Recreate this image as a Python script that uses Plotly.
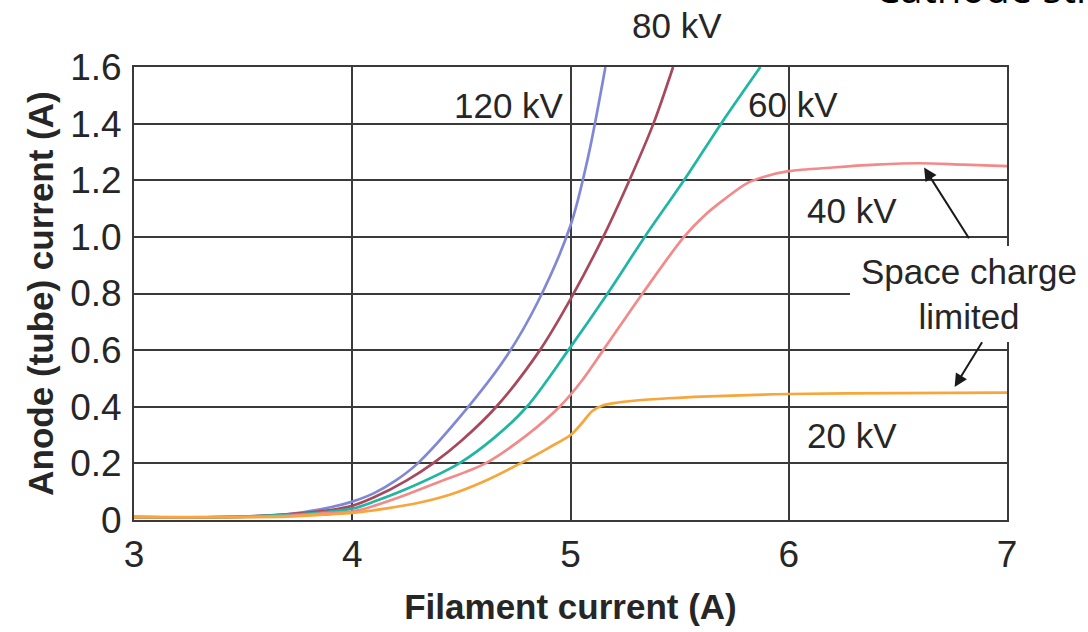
import plotly.graph_objects as go

# ---- data ----
x_120kv = [3.0, 3.4, 3.7, 3.9, 4.0, 4.1, 4.2, 4.3, 4.5, 4.7, 4.85, 5.0, 5.08, 5.16]
y_120kv = [0.01, 0.01, 0.02, 0.045, 0.065, 0.095, 0.14, 0.2, 0.37, 0.57, 0.77, 1.04, 1.28, 1.6]

x_80kv = [3.0, 3.4, 3.7, 3.9, 4.0, 4.1, 4.25, 4.37, 4.5, 4.66, 4.86, 5.0, 5.15, 5.27, 5.38, 5.47]
y_80kv = [0.01, 0.01, 0.02, 0.035, 0.05, 0.08, 0.14, 0.2, 0.28, 0.4, 0.6, 0.78, 1.0, 1.2, 1.4, 1.6]

x_60kv = [3.0, 3.4, 3.7, 3.9, 4.0, 4.1, 4.25, 4.49, 4.65, 4.8, 4.99, 5.17, 5.34, 5.52, 5.69, 5.87]
y_60kv = [0.01, 0.01, 0.018, 0.03, 0.04, 0.065, 0.11, 0.2, 0.29, 0.4, 0.6, 0.8, 1.0, 1.2, 1.4, 1.6]

x_40kv = [3.0, 3.4, 3.7, 3.9, 4.0, 4.1, 4.25, 4.4, 4.61, 4.8, 4.95, 5.05, 5.15, 5.33, 5.52, 5.62, 5.7, 5.81, 5.9, 6.0, 6.2, 6.4, 6.6, 6.8, 7.0]
y_40kv = [0.01, 0.01, 0.015, 0.025, 0.03, 0.05, 0.09, 0.135, 0.2, 0.3, 0.4, 0.49, 0.6, 0.8, 1.0, 1.08, 1.13, 1.19, 1.215, 1.232, 1.245, 1.255, 1.26, 1.255, 1.25]

x_20kv = [3.0, 3.4, 3.7, 3.9, 4.0, 4.15, 4.3, 4.45, 4.6, 4.77, 4.9, 5.0, 5.05, 5.1, 5.15, 5.2, 5.3, 5.45, 5.6, 6.0, 6.5, 7.0]
y_20kv = [0.01, 0.01, 0.012, 0.02, 0.025, 0.04, 0.06, 0.09, 0.135, 0.2, 0.255, 0.3, 0.34, 0.385, 0.405, 0.413, 0.422, 0.43, 0.436, 0.445, 0.448, 0.45]

series_names = ["120 kV", "80 kV", "60 kV", "40 kV", "20 kV"]
series_colors = ["#8088d6", "#a8485c", "#1fb7a3", "#f38a8a", "#f6a63a"]

y_tick_vals = [0, 0.2, 0.4, 0.6, 0.8, 1.0, 1.2, 1.4, 1.6]
y_tick_text = ["0", "0.2", "0.4", "0.6", "0.8", "1.0", "1.2", "1.4", "1.6"]
x_tick_vals = [3, 4, 5, 6, 7]
x_tick_text = ["3", "4", "5", "6", "7"]

xs = [x_120kv, x_80kv, x_60kv, x_40kv, x_20kv]
ys = [y_120kv, y_80kv, y_60kv, y_40kv, y_20kv]

fig = go.Figure()
for name, color, xv, yv in zip(series_names, series_colors, xs, ys):
    fig.add_trace(go.Scatter(x=xv, y=yv, mode="lines", name=name,
                             line=dict(color=color, width=2.7, shape="spline", smoothing=0.9),
                             cliponaxis=False, showlegend=False))

grid_col = "#3a3a3a"
txt_col = "#262626"
lab_font = dict(family="Liberation Sans, Arial, sans-serif", size=35, color=txt_col)
tick_font = dict(family="Liberation Sans, Arial, sans-serif", size=37, color=txt_col)
title_font = dict(family="Liberation Sans, Arial, sans-serif", size=35, color=txt_col)

fig.update_layout(
    width=1088, height=632,
    margin=dict(l=134, r=81, t=67, b=105),
    paper_bgcolor="white", plot_bgcolor="white",
    xaxis=dict(range=[3, 7], tickvals=x_tick_vals, ticktext=x_tick_text,
               showgrid=True, gridcolor=grid_col, gridwidth=2,
               showline=True, linecolor=grid_col, linewidth=2, mirror=True,
               zeroline=False, ticks="outside", ticklen=1, tickcolor="rgba(0,0,0,0)",
               tickfont=tick_font,
               title=dict(text="<b>Filament current (A)</b>", standoff=20, font=title_font)),
    yaxis=dict(range=[0, 1.6], tickvals=y_tick_vals, ticktext=y_tick_text,
               showgrid=True, gridcolor=grid_col, gridwidth=2,
               showline=True, linecolor=grid_col, linewidth=2, mirror=True,
               zeroline=False, ticks="outside", ticklen=3, tickcolor="rgba(0,0,0,0)",
               tickfont=tick_font,
               title=dict(text="<b>Anode (tube) current (A)</b>", standoff=6, font=title_font)),
)

# curve labels (80 kV sits above the plot area, so it is placed in paper units vertically)
labels = [("80 kV", 5.49, 1.091, "paper"), ("120 kV", 4.72, 1.464, "y"), ("60 kV", 6.02, 1.468, "y"),
          ("40 kV", 6.29, 1.093, "y"), ("20 kV", 6.29, 0.298, "y")]
for t, lx, ly, yr in labels:
    fig.add_annotation(x=lx, y=ly, xref="x", yref=yr, text=t, showarrow=False,
                       xanchor="center", yanchor="middle", font=lab_font)

# space charge limited label (white box hides the grid behind it)
fig.add_annotation(x=0.956, y=0.5, xref="paper", yref="paper",
                   text="Space charge<br>limited", showarrow=False,
                   xanchor="center", yanchor="middle", align="center",
                   width=234, height=92, bgcolor="white", borderpad=2, borderwidth=0,
                   font=lab_font)

# arrows
fig.add_annotation(x=6.62, y=1.245, xref="x", yref="y", ax=6.83, ay=0.99, axref="x", ayref="y",
                   text="", showarrow=True, arrowhead=2, arrowsize=1.3, arrowwidth=2, arrowcolor="#1a1a1a")
fig.add_annotation(x=6.76, y=0.47, xref="x", yref="y", ax=6.89, ay=0.633, axref="x", ayref="y",
                   text="", showarrow=True, arrowhead=2, arrowsize=1.3, arrowwidth=2, arrowcolor="#1a1a1a")

# partially visible heading at the top right (cut off by the top edge, as in the reference)
fig.add_annotation(x=0.847, y=1.11, xref="paper", yref="paper", text="Cathode structure",
                   showarrow=False, xanchor="left", yanchor="bottom",
                   font=dict(family="Open Sans, sans-serif", size=40, color="#000000"))

fig.write_html("out.html", config={"displayModeBar": False},
               post_script="document.body.style.margin='0';")
